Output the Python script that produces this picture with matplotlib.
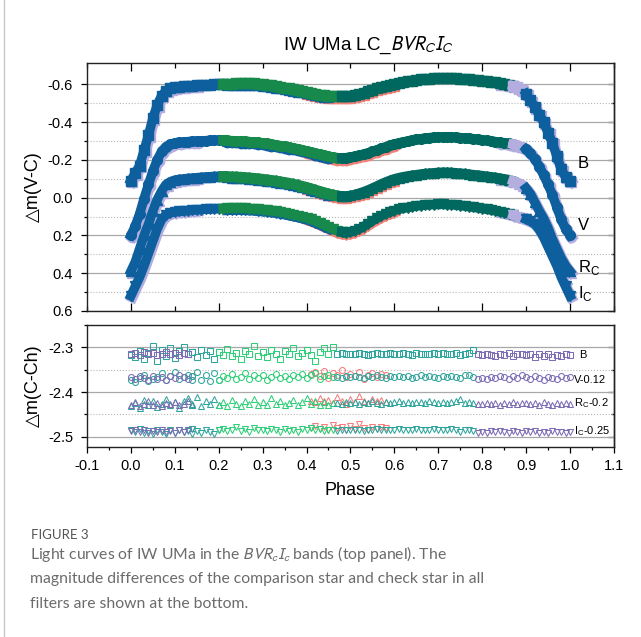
import numpy as np
import matplotlib.pyplot as plt
from matplotlib.ticker import MultipleLocator, FixedLocator
from matplotlib.transforms import offset_copy
from matplotlib.lines import Line2D

plt.rcParams['font.family'] = ['Liberation Sans', 'DejaVu Sans']
plt.rcParams['axes.unicode_minus'] = False

phase = np.round(np.arange(0, 1.0001, 0.01), 2)

# light curves, delta m (V-C)
b_mag = [-0.09, -0.13, -0.17, -0.25, -0.33, -0.42, -0.49, -0.54, -0.565, -0.578,
         -0.585, -0.588, -0.59, -0.592, -0.593, -0.595, -0.596, -0.597, -0.598, -0.60,
         -0.60, -0.602, -0.603, -0.604, -0.605, -0.606, -0.606, -0.606, -0.605, -0.604,
         -0.60, -0.597, -0.594, -0.59, -0.586, -0.582, -0.578, -0.574, -0.57, -0.565,
         -0.56, -0.555, -0.55, -0.546, -0.543, -0.54, -0.538, -0.537, -0.536, -0.537,
         -0.54, -0.545, -0.55, -0.556, -0.563, -0.57, -0.578, -0.585, -0.592, -0.598,
         -0.604, -0.609, -0.613, -0.617, -0.62, -0.623, -0.626, -0.628, -0.63, -0.631,
         -0.632, -0.633, -0.633, -0.632, -0.631, -0.63, -0.628, -0.626, -0.624, -0.622,
         -0.62, -0.617, -0.614, -0.611, -0.607, -0.603, -0.598, -0.592, -0.585, -0.572,
         -0.55, -0.515, -0.48, -0.44, -0.40, -0.345, -0.29, -0.22, -0.15, -0.11,
         -0.09]
v_mag = [0.20, 0.15, 0.085, 0.005, -0.07, -0.14, -0.20, -0.245, -0.27, -0.283,
         -0.29, -0.293, -0.295, -0.297, -0.298, -0.30, -0.301, -0.302, -0.303, -0.304,
         -0.305, -0.304, -0.303, -0.302, -0.301, -0.30, -0.299, -0.297, -0.295, -0.293,
         -0.29, -0.287, -0.284, -0.28, -0.276, -0.272, -0.268, -0.264, -0.259, -0.254,
         -0.248, -0.242, -0.236, -0.23, -0.224, -0.219, -0.215, -0.212, -0.211, -0.212,
         -0.215, -0.219, -0.224, -0.23, -0.237, -0.245, -0.253, -0.261, -0.269, -0.277,
         -0.284, -0.29, -0.295, -0.30, -0.305, -0.309, -0.312, -0.315, -0.318, -0.32,
         -0.321, -0.322, -0.322, -0.321, -0.32, -0.318, -0.316, -0.314, -0.312, -0.309,
         -0.306, -0.303, -0.30, -0.297, -0.293, -0.29, -0.287, -0.283, -0.278, -0.27,
         -0.257, -0.235, -0.205, -0.165, -0.12, -0.07, -0.015, 0.05, 0.115, 0.165,
         0.20]
r_mag = [0.39, 0.34, 0.27, 0.20, 0.14, 0.07, 0.01, -0.035, -0.07, -0.085,
         -0.093, -0.097, -0.10, -0.102, -0.104, -0.106, -0.108, -0.11, -0.111, -0.113,
         -0.114, -0.115, -0.115, -0.114, -0.113, -0.112, -0.11, -0.108, -0.106, -0.104,
         -0.101, -0.098, -0.095, -0.092, -0.088, -0.084, -0.08, -0.075, -0.07, -0.064,
         -0.058, -0.051, -0.044, -0.037, -0.03, -0.024, -0.018, -0.013, -0.01, -0.009,
         -0.012, -0.017, -0.024, -0.032, -0.041, -0.051, -0.062, -0.073, -0.083, -0.092,
         -0.10, -0.106, -0.111, -0.115, -0.119, -0.122, -0.125, -0.128, -0.13, -0.132,
         -0.134, -0.135, -0.135, -0.134, -0.132, -0.13, -0.128, -0.125, -0.122, -0.12,
         -0.117, -0.114, -0.111, -0.108, -0.104, -0.10, -0.096, -0.09, -0.082, -0.072,
         -0.05, -0.02, 0.025, 0.07, 0.11, 0.16, 0.22, 0.27, 0.32, 0.36,
         0.39]
i_mag = [0.52, 0.47, 0.42, 0.36, 0.295, 0.23, 0.165, 0.115, 0.09, 0.08,
         0.076, 0.073, 0.071, 0.069, 0.067, 0.065, 0.063, 0.062, 0.061, 0.06,
         0.059, 0.058, 0.057, 0.056, 0.056, 0.056, 0.057, 0.058, 0.06, 0.062,
         0.064, 0.066, 0.069, 0.072, 0.076, 0.08, 0.085, 0.09, 0.095, 0.10,
         0.107, 0.115, 0.124, 0.134, 0.145, 0.155, 0.166, 0.176, 0.183, 0.186,
         0.183, 0.176, 0.166, 0.153, 0.138, 0.123, 0.11, 0.097, 0.086, 0.077,
         0.068, 0.062, 0.057, 0.053, 0.049, 0.045, 0.042, 0.04, 0.038, 0.037,
         0.036, 0.036, 0.037, 0.038, 0.04, 0.042, 0.045, 0.048, 0.051, 0.055,
         0.058, 0.062, 0.066, 0.07, 0.075, 0.08, 0.086, 0.093, 0.10, 0.106,
         0.115, 0.125, 0.14, 0.17, 0.21, 0.26, 0.31, 0.36, 0.42, 0.47,
         0.52]

# comparison - check star, delta m (C-Ch), before the offsets in the labels
b_cch = [-2.316, -2.313, -2.318, -2.311, -2.315, -2.312, -2.317, -2.314, -2.310, -2.316,
         -2.313, -2.318, -2.312, -2.315, -2.311, -2.322, -2.305, -2.318, -2.309, -2.326,
         -2.310, -2.318, -2.303, -2.320, -2.312, -2.325, -2.308, -2.315, -2.298, -2.319,
         -2.311, -2.322, -2.306, -2.316, -2.327, -2.309, -2.314, -2.302, -2.320, -2.312,
         -2.305, -2.317, -2.331, -2.310, -2.302, -2.316, -2.300, -2.315, -2.313, -2.316,
         -2.314, -2.316, -2.313, -2.315, -2.317, -2.314, -2.312, -2.316, -2.315, -2.313,
         -2.316, -2.314, -2.312, -2.315, -2.317, -2.313, -2.315, -2.314, -2.316, -2.313,
         -2.315, -2.312, -2.316, -2.314, -2.313, -2.317, -2.315, -2.313, -2.306, -2.316,
         -2.318, -2.314, -2.317, -2.320, -2.315, -2.318, -2.313, -2.319, -2.316, -2.314,
         -2.318, -2.315, -2.321, -2.316, -2.319, -2.314, -2.322, -2.317, -2.320, -2.316,
         -2.318]
v_cch = [-2.246, -2.251, -2.244, -2.249, -2.253, -2.245, -2.250, -2.247, -2.252, -2.244,
         -2.249, -2.243, -2.247, -2.250, -2.245, -2.236, -2.252, -2.241, -2.255, -2.238,
         -2.253, -2.244, -2.249, -2.240, -2.251, -2.246, -2.237, -2.250, -2.243, -2.248,
         -2.241, -2.252, -2.246, -2.239, -2.249, -2.244, -2.251, -2.242, -2.247, -2.240,
         -2.249, -2.243, -2.238, -2.250, -2.245, -2.241, -2.247, -2.246, -2.248, -2.245,
         -2.247, -2.244, -2.246, -2.249, -2.245, -2.247, -2.243, -2.246, -2.248, -2.245,
         -2.246, -2.244, -2.247, -2.245, -2.248, -2.246, -2.243, -2.247, -2.245, -2.246,
         -2.248, -2.245, -2.247, -2.244, -2.246, -2.249, -2.243, -2.241, -2.246, -2.250,
         -2.248, -2.251, -2.246, -2.249, -2.244, -2.247, -2.250, -2.245, -2.248, -2.243,
         -2.247, -2.250, -2.245, -2.249, -2.252, -2.246, -2.248, -2.251, -2.245, -2.249,
         -2.247]
r_cch = [-2.228, -2.222, -2.231, -2.226, -2.220, -2.229, -2.224, -2.232, -2.225, -2.227,
         -2.223, -2.230, -2.226, -2.221, -2.228, -2.212, -2.231, -2.219, -2.226, -2.216,
         -2.229, -2.222, -2.231, -2.218, -2.226, -2.232, -2.220, -2.227, -2.215, -2.229,
         -2.223, -2.230, -2.214, -2.226, -2.221, -2.229, -2.224, -2.217, -2.228, -2.222,
         -2.214, -2.226, -2.219, -2.229, -2.223, -2.228, -2.225, -2.224, -2.226, -2.223,
         -2.225, -2.222, -2.226, -2.223, -2.225, -2.221, -2.224, -2.226, -2.222, -2.224,
         -2.223, -2.221, -2.224, -2.222, -2.225, -2.223, -2.222, -2.224, -2.221, -2.223,
         -2.224, -2.222, -2.225, -2.223, -2.221, -2.216, -2.224, -2.222, -2.225, -2.227,
         -2.226, -2.224, -2.227, -2.225, -2.228, -2.224, -2.226, -2.223, -2.227, -2.225,
         -2.224, -2.227, -2.225, -2.228, -2.223, -2.226, -2.229, -2.224, -2.227, -2.225,
         -2.226]
i_cch = [-2.238, -2.235, -2.240, -2.236, -2.241, -2.237, -2.239, -2.234, -2.240, -2.237,
         -2.241, -2.236, -2.239, -2.235, -2.233, -2.238, -2.242, -2.236, -2.240, -2.244,
         -2.236, -2.232, -2.238, -2.234, -2.229, -2.237, -2.233, -2.239, -2.231, -2.236,
         -2.234, -2.238, -2.232, -2.236, -2.240, -2.233, -2.237, -2.235, -2.239, -2.232,
         -2.235, -2.231, -2.236, -2.233, -2.238, -2.234, -2.236, -2.237, -2.235, -2.236,
         -2.234, -2.236, -2.235, -2.237, -2.234, -2.236, -2.233, -2.235, -2.236, -2.234,
         -2.235, -2.233, -2.236, -2.234, -2.235, -2.232, -2.236, -2.234, -2.235, -2.233,
         -2.235, -2.234, -2.236, -2.233, -2.235, -2.240, -2.234, -2.236, -2.237, -2.241,
         -2.239, -2.241, -2.238, -2.240, -2.237, -2.239, -2.241, -2.238, -2.240, -2.242,
         -2.238, -2.240, -2.237, -2.241, -2.239, -2.242, -2.238, -2.240, -2.239, -2.241,
         -2.240]

# second night overlapping phases 0.00-0.14
phase_n2 = np.round(np.arange(0, 0.1401, 0.01), 2)
b_cch_n2 = [-2.318, -2.322, -2.308, -2.326, -2.312, -2.297, -2.330, -2.305, -2.319, -2.302,
            -2.323, -2.309, -2.300, -2.316, -2.311]
v_cch_n2 = [-2.252, -2.257, -2.249, -2.243, -2.255, -2.250, -2.246, -2.238, -2.253, -2.244,
            -2.236, -2.251, -2.247, -2.241, -2.254]
r_cch_n2 = [-2.232, -2.224, -2.236, -2.218, -2.229, -2.221, -2.234, -2.226, -2.215, -2.230,
            -2.223, -2.235, -2.220, -2.213, -2.227]
i_cch_n2 = [-2.236, -2.240, -2.233, -2.242, -2.237, -2.245, -2.235, -2.239, -2.243, -2.236,
            -2.241, -2.234, -2.240, -2.238, -2.244]
# night overlapping phases 0.41-0.58 (no B)
phase_n3 = np.round(np.arange(0.41, 0.5801, 0.01), 2)
v_cch_n3 = [-2.240, -2.236, -2.245, -2.233, -2.249, -2.238, -2.243, -2.231, -2.247, -2.239,
            -2.244, -2.236, -2.250, -2.241, -2.237, -2.246, -2.240, -2.243]
r_cch_n3 = [-2.219, -2.223, -2.214, -2.221, -2.217, -2.224, -2.212, -2.220, -2.226, -2.216,
            -2.222, -2.209, -2.219, -2.225, -2.215, -2.221, -2.218, -2.223]
i_cch_n3 = [-2.230, -2.226, -2.233, -2.228, -2.235, -2.224, -2.231, -2.229, -2.234, -2.227,
            -2.232, -2.222, -2.230, -2.235, -2.228, -2.233, -2.229, -2.231]

bands = ['B', 'V', 'R$_\\mathregular{C}$', 'I$_\\mathregular{C}$']
offsets = [0.0, 0.12, 0.2, 0.25]
markers = ['s', 'o', '^', 'v']

# which night covers which phases
top_nights = [('blue', 0.0, 0.21), ('green', 0.21, 0.48), ('teal', 0.48, 0.87),
              ('purple', 0.87, 0.90), ('blue', 0.90, 1.0)]
top_under = [('purple', 0.0, 0.15), ('purple', 0.84, 1.0), ('salmon', 0.40, 0.60), ('blue', 0.22, 0.45)]
bot_nights = [('purple', 0.0, 0.14), ('teal', 0.14, 0.20), ('green', 0.20, 0.46),
              ('teal', 0.47, 0.78), ('purple', 0.79, 1.0)]

top_col = {'blue': '#0d5f9e', 'green': '#17894b', 'teal': '#00685f',
           'purple': '#b4aee0', 'salmon': '#f08078'}
bot_col = {'blue': '#0d5f9e', 'green': '#2ecf78', 'teal': '#2fa59c',
           'purple': '#7d6db5', 'salmon': '#f57d7d'}

fig = plt.figure(figsize=(6.41, 6.37), dpi=100)
ax = fig.add_axes([0.1357, 0.5118, 0.822, 0.389])
ax2 = fig.add_axes([0.1357, 0.2983, 0.822, 0.1915])

# ---- top panel: light curves
shift = {'purple': offset_copy(ax.transData, fig, x=1.5, y=-1.5, units='dots'),
         'salmon': offset_copy(ax.transData, fig, x=0, y=-2.0, units='dots'),
         'blue': offset_copy(ax.transData, fig, x=0, y=-1.5, units='dots')}
for mag, mk in zip([b_mag, v_mag, r_mag, i_mag], markers):
    mag = np.array(mag)
    for night, lo, hi in top_under:
        m = (phase >= lo - 1e-9) & (phase <= hi + 1e-9)
        ax.plot(phase[m], mag[m], '-', marker=mk, color=top_col[night], lw=7.5, ms=7.5,
                transform=shift[night], zorder=2)
    for night, lo, hi in top_nights:
        m = (phase >= lo - 1e-9) & (phase <= hi + 1e-9)
        ax.plot(phase[m], mag[m], '-', marker=mk, color=top_col[night], lw=6.8, ms=7,
                zorder=3)

top_lab_y = [-0.18, 0.15, 0.37, 0.505]
for lab, yy in zip(bands, top_lab_y):
    ax.text(1.018, yy, lab, fontsize=12, va='center', ha='left')

ax.set_xlim(-0.1, 1.1)
ax.set_ylim(0.6, -0.712)
ax.xaxis.set_major_locator(MultipleLocator(0.2))
ax.xaxis.set_minor_locator(MultipleLocator(0.1))
ax.yaxis.set_major_locator(FixedLocator([-0.6, -0.4, -0.2, 0.0, 0.2, 0.4, 0.6]))
ax.yaxis.set_minor_locator(FixedLocator([-0.5, -0.3, -0.1, 0.1, 0.3, 0.5]))
ax.set_yticklabels(['-0.6', '-0.4', '-0.2', '0.0', '0.2', '0.4', '0.6'])
ax.tick_params(axis='x', which='both', direction='in', top=True, labelbottom=False)
ax.tick_params(axis='x', which='major', length=5.5, width=0.9)
ax.tick_params(axis='x', which='minor', length=3.5, width=0.9)
ax.tick_params(axis='y', which='major', direction='out', length=4, width=0.9, labelsize=10.5, pad=6)
ax.tick_params(axis='y', which='minor', direction='out', length=2.2, width=0.9)
ax.grid(True, axis='y', which='major', color='#a8a8a8', lw=0.9)
ax.grid(True, axis='y', which='minor', color='#b8b8b8', lw=0.8, ls=':')
ax.set_axisbelow(True)
ax.set_ylabel('\u25B3m(V-C)', fontsize=13)
ax.yaxis.set_label_coords(-0.086, 0.5)
sec = ax.secondary_yaxis('right')
sec.yaxis.set_major_locator(FixedLocator([-0.6, -0.4, -0.2, 0.0, 0.2, 0.4, 0.6]))
sec.yaxis.set_minor_locator(FixedLocator([-0.5, -0.3, -0.1, 0.1, 0.3, 0.5]))
sec.tick_params(which='major', direction='in', length=4, width=0.9, labelright=False)
sec.tick_params(which='minor', direction='in', length=2.2, width=0.9)

# ---- bottom panel: comparison - check
for vals, n2, mk, off in zip([b_cch, v_cch, r_cch, i_cch],
                             [b_cch_n2, v_cch_n2, r_cch_n2, i_cch_n2],
                             markers, offsets):
    vals = np.array(vals) - off
    ax2.plot(phase_n2, np.array(n2) - off, ls='none', marker=mk, mfc='none',
             mec=bot_col['teal'], ms=4.3, mew=0.75, zorder=2)
    for night, lo, hi in bot_nights:
        m = (phase >= lo - 1e-9) & (phase <= hi + 1e-9)
        ax2.plot(phase[m], vals[m], ls='none', marker=mk, mfc='none',
                 mec=bot_col[night], ms=4.3, mew=0.75, zorder=3)
for n3, mk, off in zip([v_cch_n3, r_cch_n3, i_cch_n3], markers[1:], offsets[1:]):
    ax2.plot(phase_n3, np.array(n3) - off, ls='none', marker=mk, mfc='none',
             mec=bot_col['salmon'], ms=4.3, mew=0.75, zorder=2.5)

bot_labels = ['B', 'V-0.12', 'R$_\\mathregular{C}$-0.2', 'I$_\\mathregular{C}$-0.25']
bot_lab_x = [1.02, 1.008, 1.01, 1.01]
bot_lab_y = [-2.317, -2.372, -2.424, -2.487]
for lab, xx, yy in zip(bot_labels, bot_lab_x, bot_lab_y):
    ax2.text(xx, yy, lab, fontsize=8, va='center', ha='left')

ax2.set_xlim(-0.1, 1.1)
ax2.set_ylim(-2.523, -2.25)
ax2.xaxis.set_major_locator(MultipleLocator(0.1))
ax2.xaxis.set_minor_locator(MultipleLocator(0.05))
ax2.set_xticklabels([f'{t:.1f}' for t in ax2.get_xticks()])
ax2.yaxis.set_major_locator(FixedLocator([-2.5, -2.4, -2.3]))
ax2.yaxis.set_minor_locator(FixedLocator([-2.45, -2.35, -2.25]))
ax2.set_yticklabels(['-2.5', '-2.4', '-2.3'])
ax2.tick_params(axis='x', which='major', direction='out', length=4, width=0.9, labelsize=10.5, pad=5)
ax2.tick_params(axis='x', which='minor', direction='out', length=2.2, width=0.9)
ax2.tick_params(axis='y', which='major', direction='out', length=4, width=0.9, labelsize=10.5, pad=6)
ax2.tick_params(axis='y', which='minor', direction='out', length=2.2, width=0.9)
ax2.grid(True, axis='y', which='major', color='#a8a8a8', lw=0.9)
ax2.grid(True, axis='y', which='minor', color='#b8b8b8', lw=0.8, ls=':')
ax2.set_axisbelow(True)
ax2.set_ylabel('\u25B3m(C-Ch)', fontsize=13)
ax2.yaxis.set_label_coords(-0.086, 0.5)
ax2.set_xlabel('Phase', fontsize=13)
ax2.xaxis.set_label_coords(0.5, -0.29)
sec2 = ax2.secondary_yaxis('right')
sec2.yaxis.set_major_locator(FixedLocator([-2.5, -2.4, -2.3]))
sec2.yaxis.set_minor_locator(FixedLocator([-2.45, -2.35]))
sec2.tick_params(which='major', direction='in', length=4, width=0.9, labelright=False)
sec2.tick_params(which='minor', direction='in', length=2.2, width=0.9)

for a in [ax, ax2, sec, sec2]:
    for s in a.spines.values():
        s.set_linewidth(1.0)
        s.set_color('#222222')

fig.text(0.574, 0.929, 'IW UMa LC_$BVR_CI_C$', fontsize=13.5, ha='center', va='center',
         math_fontfamily='stixsans')

# caption
fig.add_artist(Line2D([3.5 / 641, 3.5 / 641], [0, 1], transform=fig.transFigure,
                      color='#c8c8c8', lw=1))
fig.text(31 / 641, 1 - 535 / 637, 'FIGURE 3', fontsize=9.5, color='#555555',
         family='Lato', va='center')
caption = ['Light curves of IW UMa in the $BVR_cI_c$ bands (top panel). The',
           'magnitude differences of the comparison star and check star in all',
           'filters are shown at the bottom.']
for line, yy in zip(caption, [554, 579, 604]):
    fig.text(30 / 641, 1 - yy / 637, line, fontsize=11.3, color='#6b6b6b',
             family='Lato', va='center', math_fontfamily='stixsans')

fig.savefig('out.png', dpi=100)
